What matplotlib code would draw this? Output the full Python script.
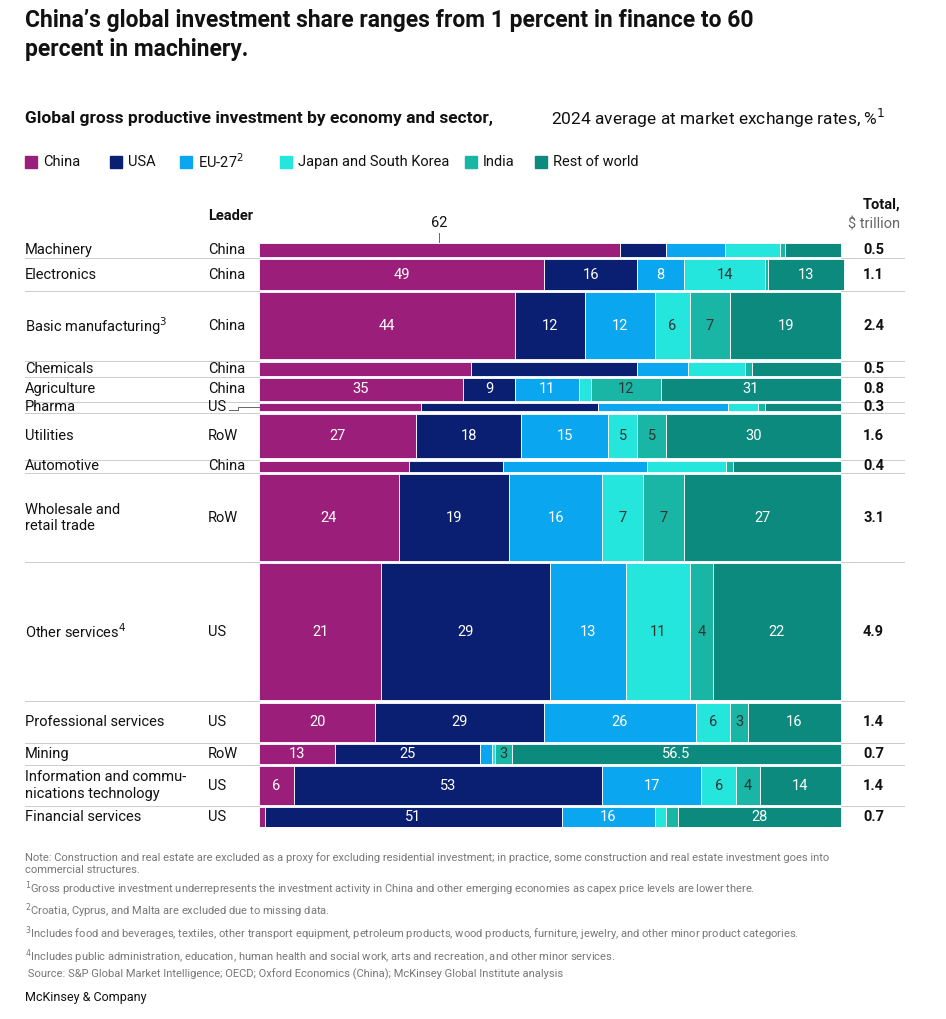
import numpy as np
import matplotlib.pyplot as plt
from matplotlib.transforms import blended_transform_factory

plt.rcParams['font.family'] = ['Roboto', 'DejaVu Sans']

sectors = ["Machinery", "Electronics", "Basic manufacturing$^3$", "Chemicals", "Agriculture",
           "Pharma", "Utilities", "Automotive", "Wholesale and\nretail trade", "Other services$^4$",
           "Professional services", "Mining", "Information and commu-\nnications technology",
           "Financial services"]
leaders = ["China", "China", "China", "China", "China", "US", "RoW", "China", "RoW", "US",
           "US", "RoW", "US", "US"]
totals = [0.5, 1.1, 2.4, 0.5, 0.8, 0.3, 1.6, 0.4, 3.1, 4.9, 1.4, 0.7, 1.4, 0.7]
economies = ["China", "USA", "EU-27$^2$", "Japan and South Korea", "India", "Rest of world"]
colors = ["#9b1f7a", "#0a1f72", "#0aa6f0", "#24e6dc", "#19b6a6", "#0c8a7e"]
shares = [
    [62, 8, 10, 9.6, 0.7, 9.7],
    [49, 16, 8, 14, 0.5, 13],
    [44, 12, 12, 6, 7, 19],
    [36.4, 28.5, 8.8, 9.8, 1.2, 15.3],
    [35, 9, 11, 2, 12, 31],
    [27.8, 30.4, 22.3, 5.2, 1.2, 13.1],
    [27, 18, 15, 5, 5, 30],
    [25.8, 16.2, 24.7, 13.6, 1.2, 18.5],
    [24, 19, 16, 7, 7, 27],
    [21, 29, 13, 11, 4, 22],
    [20, 29, 26, 6, 3, 16],
    [13, 25, 2, 0.5, 3, 56.5],
    [6, 53, 17, 6, 4, 14],
    [1, 51, 16, 2, 2, 28],
]
labeled = [False, True, True, False, True, False, True, False, True, True, True, True, True, True]

W, H = 946, 1019
fig = plt.figure(figsize=(W / 100, H / 100), dpi=100)

def px(x0, y0, x1, y1):
    return [x0 / W, 1 - y1 / H, (x1 - x0) / W, (y1 - y0) / H]

# bars: data x 0..100 mapped to pixels 259..841; axes spans 25..905
sc = (841 - 259) / 100
xl, xr = -(259 - 25) / sc, 100 + (905 - 841) / sc
ax = fig.add_axes(px(25, 243, 905, 827))
gap = 0.085
ytot = sum(totals) + gap * (len(totals) - 1)
ax.set_xlim(xl, xr)
ax.set_ylim(ytot, 0)
ax.axis('off')

y = 0
for i, (s, t) in enumerate(zip(shares, totals)):
    left = 0
    for j, v in enumerate(s):
        ax.barh(y + t / 2, v, left=left, height=t, color=colors[j], edgecolor='white',
                linewidth=0.6)
        if labeled[i] and v >= 3:
            ax.text(left + v / 2, y + t / 2, f"{v:g}", ha='center', va='center', fontsize=10.5,
                    color='#333333' if j in (3, 4) else 'white')
        left += v
    ax.text(xl, y + t / 2, sectors[i], ha='left', va='center', fontsize=10.5, color='#111111',
            linespacing=1.2)
    lx = -(259 - 208) / sc
    ax.text(lx, y + t / 2, leaders[i], ha='left', va='center', fontsize=10.5, color='#111111')
    ax.text(105.6, y + t / 2, f"{t:g}", ha='center', va='center', fontsize=10.5,
            fontweight='bold', color='#111111')
    if i == 5:
        ax.plot([-5.2, -3.6, -3.6, 0], [y + t / 2 + 0.12, y + t / 2 + 0.12, y + t / 2, y + t / 2],
                color='#666666', lw=0.7)
    if i < len(totals) - 1:
        yy = y + t + gap / 2
        ax.plot([xl, 0], [yy, yy], color='#cccccc', lw=0.7)
        ax.plot([100, xr], [yy, yy], color='#cccccc', lw=0.7)
    y += t + gap

# 62 callout for machinery
ax.plot([31, 31], [-0.05, -0.35], color='#666666', lw=0.7, clip_on=False)
ax.text(31, -0.45, "62", ha='center', va='bottom', fontsize=10.5, color='#111111')

fig.text(25 / W, 1 - 35 / H, "China’s global investment share ranges from 1 percent in finance to 60\npercent in machinery.",
         fontsize=16.5, fontweight='bold', va='center', ha='left', linespacing=1.35, color='#111111')
fig.text(25 / W, 1 - 118 / H, "Global gross productive investment by economy and sector,", fontsize=12.5,
         fontweight='bold', va='center', color='#111111')
fig.text(551 / W, 1 - 118 / H, "2024 average at market exchange rates, %$^1$", fontsize=12.5,
         va='center', color='#111111')

lx0 = [25, 110, 180, 280, 465, 535]
for x0, name, c in zip(lx0, economies, colors):
    fig.patches.append(plt.Rectangle((x0 / W, 1 - 168 / H), 12 / W, 12 / H, color=c,
                                     transform=fig.transFigure))
    fig.text((x0 + 18) / W, 1 - 162 / H, name, fontsize=10.5, va='center', color='#111111')

fig.text(208 / W, 1 - 216 / H, "Leader", fontsize=10.5, fontweight='bold', va='center', color='#111111')
fig.text(900 / W, 1 - 205 / H, "Total,", fontsize=10.5, fontweight='bold', va='center', ha='right', color='#111111')
fig.text(900 / W, 1 - 224 / H, "$ trillion", fontsize=10.5, va='center', ha='right', color='#666666')

notes = ("Note: Construction and real estate are excluded as a proxy for excluding residential investment; in practice, some construction and real estate investment goes into\n"
         "commercial structures.\n"
         "$^1$Gross productive investment underrepresents the investment activity in China and other emerging economies as capex price levels are lower there.\n"
         "$^2$Croatia, Cyprus, and Malta are excluded due to missing data.\n"
         "$^3$Includes food and beverages, textiles, other transport equipment, petroleum products, wood products, furniture, jewelry, and other minor product categories.\n"
         "$^4$Includes public administration, education, human health and social work, arts and recreation, and other minor services.\n"
         " Source: S&P Global Market Intelligence; OECD; Oxford Economics (China); McKinsey Global Institute analysis")
fig.text(25 / W, 1 - 852 / H, notes, fontsize=8, va='top', color='#777777', linespacing=1.3)
fig.text(25 / W, 1 - 997 / H, "McKinsey & Company", fontsize=9, va='center', color='#111111')

fig.savefig("out.png", dpi=100, facecolor='white')
